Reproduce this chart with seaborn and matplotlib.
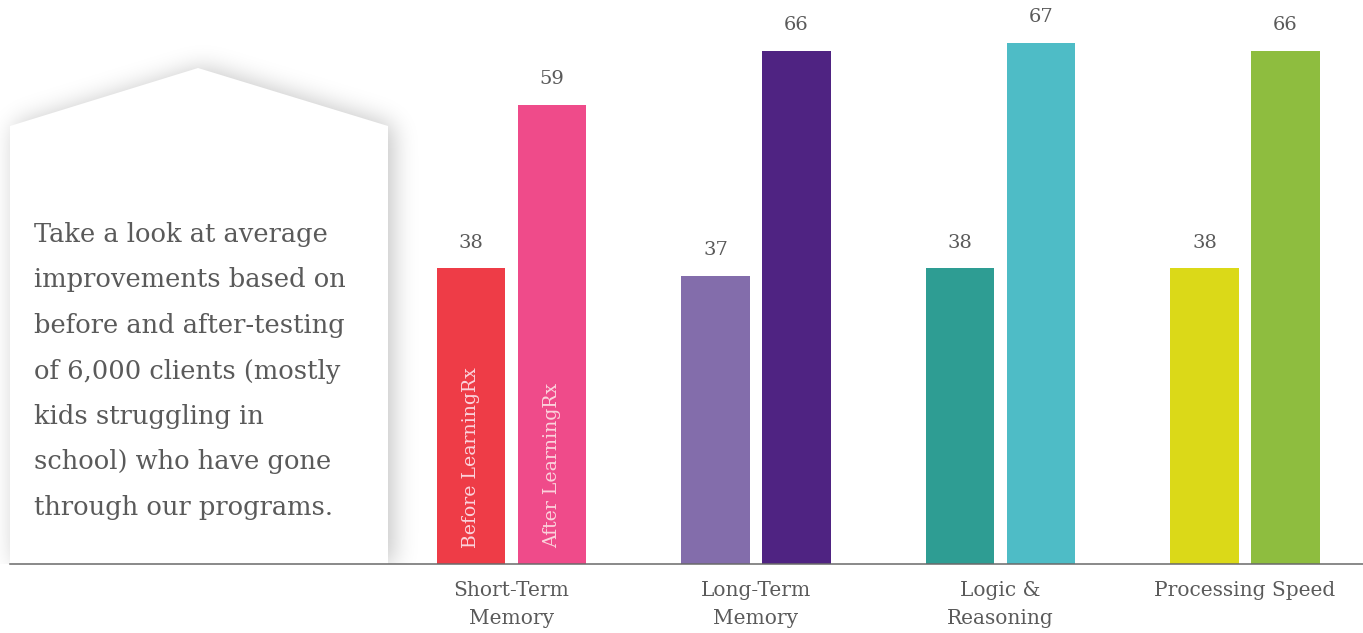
import numpy as np
import pandas as pd
import matplotlib
matplotlib.use('Agg')
import matplotlib.pyplot as plt
from matplotlib.patches import Polygon
from matplotlib.path import Path
import seaborn as sns

# data
categories = ['Short-Term\nMemory', 'Long-Term\nMemory', 'Logic &\nReasoning', 'Processing Speed']
phases = ['Before LearningRx', 'After LearningRx']
before_vals = [38, 37, 38, 38]
after_vals = [59, 66, 67, 66]
before_colors = ['#ee3c47', '#836dab', '#2e9d93', '#dbd918']
after_colors = ['#ef4b8a', '#4f2382', '#4ebcc6', '#8ebd3f']
blurb_lines = ['Take a look at average',
               'improvements based on',
               'before and after-testing',
               'of 6,000 clients (mostly',
               'kids struggling in',
               'school) who have gone',
               'through our programs.']

df = pd.DataFrame({
    'category': categories * 2,
    'phase': [phases[0]] * 4 + [phases[1]] * 4,
    'value': before_vals + after_vals,
})

sns.set_theme(style='white')
plt.rcParams['font.family'] = ['DejaVu Serif']
TXT = '#5a5a5a'

W, H = 1363, 633
BASE = 564
fig = plt.figure(figsize=(W / 100, H / 100), dpi=100)
fig.patch.set_facecolor('white')

# background layer in pixel coords for the house-shaped text box
bg = fig.add_axes([0, 0, 1, 1], zorder=0)
bg.set_xlim(0, W); bg.set_ylim(H, 0); bg.axis('off')
house = np.array([[10, BASE], [10, 126], [198, 68], [388, 126], [388, BASE]])

# soft drop shadow: blurred mask of the house shape
SW = 480
yy, xx = np.mgrid[0:H, 0:SW]
mask = Path(house).contains_points(np.c_[xx.ravel() + 0.5, yy.ravel() + 0.5]).reshape(H, SW).astype(float)
mask = np.roll(mask, 5, axis=1)
k = np.exp(-0.5 * (np.arange(-40, 41) / 12.0) ** 2)
k /= k.sum()
blur = np.apply_along_axis(lambda r: np.convolve(r, k, mode='same'), 1, mask)
blur = np.apply_along_axis(lambda c: np.convolve(c, k, mode='same'), 0, blur)
blur[BASE:, :] = 0
shadow = np.zeros((H, SW, 4))
shadow[..., 3] = 0.24 * blur
bg.imshow(shadow, extent=(0, SW, H, 0), interpolation='bilinear', zorder=0)
bg.set_xlim(0, W); bg.set_ylim(H, 0)
bg.add_patch(Polygon(house, closed=True, facecolor='white', edgecolor='none', zorder=1))
for i, line in enumerate(blurb_lines):
    bg.text(34, 242 + i * 45.5, line, fontsize=18.5, color=TXT, va='baseline', ha='left', zorder=2)

# bar layer
x0, x1 = 10, W
unit = 244.5
c0 = 511.5
ax = fig.add_axes([x0 / W, (H - BASE) / H, (x1 - x0) / W, BASE / H], zorder=1)
ax.patch.set_alpha(0)
sns.barplot(data=df, x='category', y='value', hue='phase', order=categories,
            hue_order=phases, width=162 / unit, gap=0.16, ax=ax, legend=False,
            saturation=1)
ax.set_xlim((x0 - c0) / unit, (x1 - c0) / unit)
ax.set_ylim(0, BASE / 7.78)

bars = sorted(ax.patches, key=lambda p: p.get_x())
colors = [c for pair in zip(before_colors, after_colors) for c in pair]
values = [v for pair in zip(before_vals, after_vals) for v in pair]
for bar, col, val in zip(bars, colors, values):
    bar.set_facecolor(col)
    bar.set_edgecolor('none')
    ax.annotate(f'{val}', (bar.get_x() + bar.get_width() / 2, bar.get_height()),
                xytext=(0, 15), textcoords='offset points', ha='center', va='baseline',
                fontsize=14, color=TXT)

# series names written inside the first pair of bars
for bar, name in zip(bars[:2], phases):
    ax.text(bar.get_x() + bar.get_width() / 2, 2.1, name, rotation=90, ha='center',
            va='bottom', fontsize=13.6, color='#fbd3dc')

for s in ['top', 'right', 'left']:
    ax.spines[s].set_visible(False)
ax.spines['bottom'].set_color('#6a6a6a')
ax.spines['bottom'].set_linewidth(1.1)
ax.set_yticks([])
ax.set_xlabel(''); ax.set_ylabel('')
ax.tick_params(axis='x', length=0, pad=12, labelsize=14.5, labelcolor=TXT)
for lab in ax.get_xticklabels():
    lab.set_linespacing(1.65)

fig.savefig('out.png', dpi=100, facecolor='white')
